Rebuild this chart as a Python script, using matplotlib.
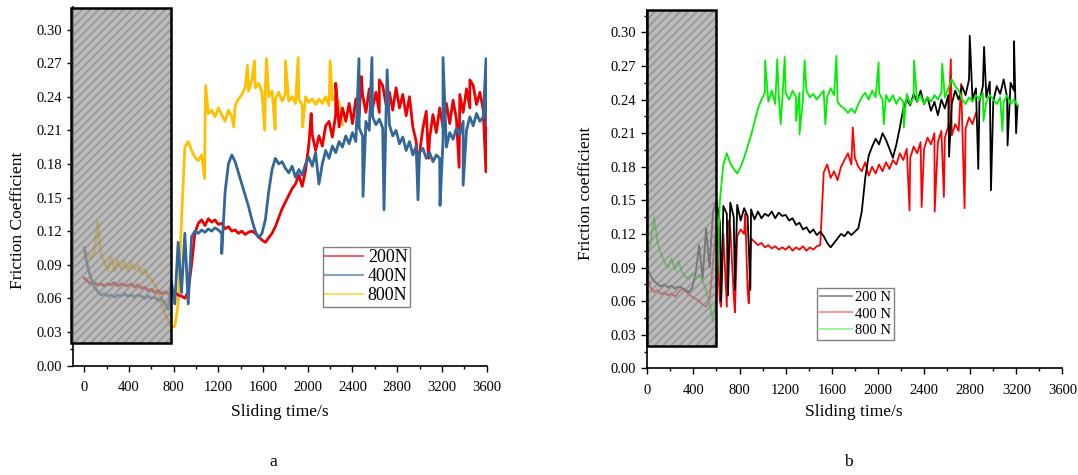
import numpy as np
import matplotlib.pyplot as plt
from matplotlib.patches import Rectangle
from matplotlib.lines import Line2D
from matplotlib.ticker import MultipleLocator, FormatStrFormatter

plt.rcParams['font.family'] = 'Liberation Serif'
plt.rcParams['hatch.linewidth'] = 1.3

# %% data, one value every 30 s (each row = 300 s)
step = 30

# (a) 200N
mu_200N_a = [
    0.078, 0.075, 0.073, 0.074, 0.072, 0.073, 0.071, 0.073, 0.072, 0.074,
    0.071, 0.073, 0.072, 0.071, 0.073, 0.070, 0.072, 0.069, 0.070, 0.067,
    0.068, 0.065, 0.067, 0.064, 0.066, 0.064, 0.066, 0.065, 0.063, 0.062,
    0.060, 0.066, 0.090, 0.118, 0.127, 0.130, 0.125, 0.131, 0.128, 0.130,
    0.126, 0.127, 0.122, 0.124, 0.120, 0.121, 0.118, 0.120, 0.117, 0.119,
    0.120, 0.118, 0.115, 0.112, 0.110, 0.114, 0.118, 0.124, 0.132, 0.140,
    0.146, 0.152, 0.158, 0.162, 0.170, 0.160, 0.174, 0.198, 0.206, 0.192,
    0.205, 0.196, 0.214, 0.218, 0.204, 0.224, 0.213, 0.230, 0.218, 0.234,
    0.216, 0.238, 0.223, 0.242, 0.226, 0.247, 0.230, 0.244, 0.226, 0.250,
    0.233, 0.244, 0.228, 0.248, 0.230, 0.242, 0.223, 0.240, 0.213, 0.200,
    0.190, 0.212, 0.227, 0.203, 0.224, 0.208, 0.230, 0.213, 0.234, 0.216,
    0.237, 0.220, 0.242, 0.226, 0.247, 0.230, 0.250, 0.233, 0.244, 0.228,
    0.235]
spk_200N_a_t = [2030, 2250, 2480, 2640, 2980, 3080, 3354, 3450, 3594]
spk_200N_a_v = [0.225, 0.252, 0.258, 0.255, 0.180, 0.185, 0.177, 0.255, 0.173]

# (a) 400N
mu_400N_a = [
    0.105, 0.088, 0.078, 0.070, 0.066, 0.063, 0.064, 0.062, 0.063, 0.061,
    0.063, 0.062, 0.064, 0.062, 0.063, 0.061, 0.063, 0.062, 0.060, 0.062,
    0.060, 0.061, 0.058, 0.060, 0.056, 0.050, 0.075, 0.055, 0.110, 0.065,
    0.118, 0.055, 0.115, 0.120, 0.118, 0.121, 0.119, 0.122, 0.120, 0.123,
    0.121, 0.118, 0.155, 0.180, 0.188, 0.182, 0.172, 0.162, 0.152, 0.142,
    0.130, 0.120, 0.114, 0.118, 0.130, 0.155, 0.175, 0.185, 0.180, 0.182,
    0.176, 0.172, 0.178, 0.168, 0.175, 0.170, 0.180, 0.186, 0.178, 0.190,
    0.162, 0.180, 0.192, 0.185, 0.196, 0.190, 0.200, 0.195, 0.205, 0.198,
    0.208, 0.200, 0.212, 0.205, 0.218, 0.210, 0.222, 0.215, 0.220, 0.212,
    0.225, 0.215, 0.205, 0.210, 0.198, 0.204, 0.192, 0.200, 0.188, 0.196,
    0.190, 0.194, 0.185, 0.190, 0.182, 0.188, 0.185, 0.200, 0.195, 0.208,
    0.202, 0.212, 0.206, 0.218, 0.210, 0.222, 0.214, 0.225, 0.218, 0.222,
    0.215]
spk_400N_a_t = [1230, 2458, 2494, 2574, 2682, 2710, 2986, 3183, 3210, 3390, 3595]
spk_400N_a_v = [0.100, 0.274, 0.151, 0.275, 0.139, 0.264, 0.148, 0.143, 0.275, 0.161, 0.274]

# (a) 800N
mu_800N_a = [
    0.097, 0.100, 0.095, 0.102, 0.128, 0.100, 0.092, 0.085, 0.097, 0.084,
    0.094, 0.086, 0.093, 0.084, 0.092, 0.086, 0.090, 0.082, 0.086, 0.080,
    0.077, 0.072, 0.065, 0.055, 0.047, 0.040, 0.034, 0.035, 0.055, 0.130,
    0.195, 0.200, 0.192, 0.186, 0.183, 0.188, 0.208, 0.225, 0.228, 0.222,
    0.230, 0.224, 0.218, 0.228, 0.222, 0.232, 0.238, 0.242, 0.248, 0.245,
    0.255, 0.248, 0.252, 0.244, 0.248, 0.240, 0.245, 0.238, 0.244, 0.236,
    0.242, 0.236, 0.240, 0.234, 0.238, 0.232, 0.240, 0.235, 0.238, 0.233,
    0.238, 0.234, 0.240, 0.232, 0.237, 0.240, 0.234, 0.215]
spk_800N_a_t = [1077, 1086, 1338, 1460, 1523, 1615, 1631, 1708, 1800, 1914, 1954, 2200]
spk_800N_a_v = [0.167, 0.250, 0.213, 0.268, 0.272, 0.210, 0.274, 0.211, 0.272, 0.275, 0.213, 0.272]

# (b) 200 N
mu_200N_b = [
    0.090, 0.082, 0.078, 0.075, 0.073, 0.075, 0.072, 0.074, 0.071, 0.073,
    0.072, 0.070, 0.068, 0.072, 0.085, 0.110, 0.080, 0.125, 0.090, 0.140,
    0.150, 0.130, 0.145, 0.138, 0.148, 0.135, 0.146, 0.132, 0.143, 0.136,
    0.142, 0.133, 0.140, 0.134, 0.138, 0.136, 0.140, 0.134, 0.139, 0.136,
    0.137, 0.132, 0.134, 0.128, 0.130, 0.124, 0.126, 0.121, 0.124, 0.119,
    0.122, 0.118, 0.112, 0.108, 0.112, 0.116, 0.120, 0.118, 0.122, 0.119,
    0.122, 0.125, 0.140, 0.170, 0.190, 0.198, 0.205, 0.200, 0.210, 0.204,
    0.196, 0.188, 0.200, 0.215, 0.232, 0.240, 0.235, 0.245, 0.238, 0.248,
    0.236, 0.242, 0.230, 0.238, 0.226, 0.240, 0.232, 0.244, 0.236, 0.248,
    0.240, 0.252, 0.244, 0.258, 0.240, 0.250, 0.238, 0.252, 0.242, 0.256,
    0.238, 0.252, 0.245, 0.258, 0.242, 0.255, 0.248, 0.235]
spk_200N_b_t = [640, 700, 760, 894, 2617, 2796, 2870, 2920, 2980, 3124, 3180, 3198]
spk_200N_b_v = [0.060, 0.065, 0.070, 0.070, 0.189, 0.297, 0.178, 0.287, 0.159, 0.199, 0.292, 0.210]

# (b) 400 N
mu_400N_b = [
    0.082, 0.072, 0.068, 0.070, 0.066, 0.068, 0.065, 0.067, 0.064, 0.068,
    0.071, 0.069, 0.066, 0.064, 0.062, 0.060, 0.057, 0.055, 0.060, 0.095,
    0.128, 0.060, 0.120, 0.055, 0.125, 0.065, 0.118, 0.124, 0.120, 0.070,
    0.116, 0.113, 0.110, 0.112, 0.108, 0.110, 0.107, 0.109, 0.106, 0.108,
    0.106, 0.109, 0.105, 0.108, 0.106, 0.109, 0.105, 0.108, 0.106, 0.109,
    0.110, 0.175, 0.182, 0.170, 0.176, 0.168, 0.180, 0.186, 0.192, 0.182,
    0.188, 0.180, 0.176, 0.184, 0.172, 0.180, 0.174, 0.182, 0.176, 0.184,
    0.178, 0.186, 0.182, 0.192, 0.186, 0.196, 0.188, 0.198, 0.192, 0.202,
    0.196, 0.206, 0.200, 0.210, 0.202, 0.212, 0.206, 0.216, 0.208, 0.218,
    0.212, 0.222, 0.214, 0.224, 0.218, 0.228]
spk_400N_b_t = [640, 700, 760, 850, 880, 1782, 2274, 2379, 2492, 2572, 2632, 2721, 2751]
spk_400N_b_v = [0.055, 0.132, 0.050, 0.138, 0.058, 0.215, 0.141, 0.144, 0.140, 0.153, 0.276, 0.254, 0.143]

# (b) 800 N
mu_800N_b = [
    0.100, 0.112, 0.135, 0.112, 0.102, 0.095, 0.090, 0.098, 0.088, 0.096,
    0.086, 0.082, 0.080, 0.084, 0.081, 0.083, 0.078, 0.070, 0.058, 0.042,
    0.065, 0.150, 0.182, 0.192, 0.183, 0.178, 0.174, 0.180, 0.188, 0.198,
    0.208, 0.220, 0.232, 0.240, 0.246, 0.238, 0.248, 0.236, 0.244, 0.238,
    0.246, 0.240, 0.248, 0.242, 0.246, 0.240, 0.248, 0.242, 0.245, 0.240,
    0.244, 0.248, 0.242, 0.250, 0.244, 0.238, 0.234, 0.232, 0.228, 0.232,
    0.228, 0.236, 0.242, 0.246, 0.240, 0.248, 0.242, 0.246, 0.240, 0.244,
    0.238, 0.244, 0.236, 0.242, 0.238, 0.245, 0.236, 0.242, 0.238, 0.244,
    0.236, 0.242, 0.238, 0.244, 0.240, 0.246, 0.242, 0.250, 0.258, 0.252,
    0.248, 0.240, 0.236, 0.242, 0.238, 0.244, 0.240, 0.246, 0.238, 0.244,
    0.240, 0.236, 0.242, 0.238, 0.244, 0.236, 0.240, 0.235]
spk_800N_b_t = [1022, 1127, 1157, 1192, 1290, 1320, 1365, 1544, 1640, 2006, 2051, 2224, 2313, 2557, 2915, 3079]
spk_800N_b_v = [0.275, 0.276, 0.218, 0.278, 0.221, 0.209, 0.275, 0.218, 0.279, 0.273, 0.218, 0.215, 0.275, 0.272, 0.221, 0.212]


def series(vals, spk_t, spk_v):
    t = np.concatenate([np.arange(len(vals)) * step, spk_t])
    v = np.concatenate([vals, spk_v])
    o = np.argsort(t, kind='stable')
    return t[o], v[o]


def style_axes(ax, xmin):
    ax.set_xlim(xmin, 3600)
    ax.set_ylim(0, 0.32)
    ax.xaxis.set_major_locator(MultipleLocator(400))
    ax.xaxis.set_minor_locator(MultipleLocator(200))
    ax.set_yticks(np.arange(0, 0.301, 0.03))
    ax.yaxis.set_minor_locator(MultipleLocator(0.015))
    ax.yaxis.set_major_formatter(FormatStrFormatter('%.2f'))
    for s in ['top', 'right']:
        ax.spines[s].set_visible(False)
    for s in ['left', 'bottom']:
        ax.spines[s].set_linewidth(1.2)
    ax.tick_params(which='major', length=4, width=1.0, labelsize=10.5)
    ax.tick_params(which='minor', length=2.5, width=1.0)
    ax.tick_params(axis='x', which='major', pad=7)
    ax.tick_params(axis='y', which='major', pad=4)


def grey_box(ax, x0, x1, y0, y1):
    ax.add_patch(Rectangle((x0, y0), x1 - x0, y1 - y0, facecolor=(0.63, 0.63, 0.63, 0.72),
                           edgecolor=(0.5, 0.5, 0.5, 0.6), linewidth=0, hatch='////',
                           zorder=5, clip_on=False))
    ax.add_patch(Rectangle((x0, y0), x1 - x0, y1 - y0, facecolor='none',
                           edgecolor='black', linewidth=1.8, zorder=6, clip_on=False))


fig = plt.figure(figsize=(10.78, 4.75), dpi=100)

# %% (a)
ax1 = fig.add_axes([0.0678, 0.2305, 0.3836, 0.7545])
c200, c400, c800 = '#ee0000', '#336699', '#ffc000'
ax1.plot(*series(mu_800N_a, spk_800N_a_t, spk_800N_a_v), color=c800, lw=2.0, zorder=2)
ax1.plot(*series(mu_200N_a, spk_200N_a_t, spk_200N_a_v), color=c200, lw=2.0, zorder=3)
ax1.plot(*series(mu_400N_a, spk_400N_a_t, spk_400N_a_v), color=c400, lw=2.0, zorder=4)
style_axes(ax1, -100)
grey_box(ax1, -120, 775, 0.020, 0.319)
h1 = [Line2D([], [], color=c, lw=1.5, alpha=0.6) for c in (c200, c400, c800)]
ax1.legend(h1, ['200N', '400N', '800N'], loc='upper left', bbox_to_anchor=(0.2993, 0.4806),
           bbox_transform=fig.transFigure, borderaxespad=0, fontsize=13, handlelength=2.1,
           handletextpad=0.25, labelspacing=0.1, borderpad=0.15, fancybox=False,
           framealpha=1, edgecolor='#808080')

# %% (b)
ax2 = fig.add_axes([0.6004, 0.2246, 0.3852, 0.7544])
ax2.plot(*series(mu_400N_b, spk_400N_b_t, spk_400N_b_v), color='#ff0000', lw=1.3, zorder=2)
ax2.plot(*series(mu_200N_b, spk_200N_b_t, spk_200N_b_v), color='black', lw=1.3, zorder=3)
ax2.plot(*series(mu_800N_b, spk_800N_b_t, spk_800N_b_v), color='#00ee00', lw=1.3, zorder=4)
style_axes(ax2, 0)
grey_box(ax2, 0, 600, 0.020, 0.320)
h2 = [Line2D([], [], color=c, lw=1.5, alpha=0.4) for c in ('black', '#ff0000', '#00ee00')]
ax2.legend(h2, ['200 N', '400 N', '800 N'], loc='upper left', bbox_to_anchor=(0.7582, 0.393),
           bbox_transform=fig.transFigure, borderaxespad=0, fontsize=10.5, handlelength=2.2,
           handletextpad=0.2, labelspacing=0.2, borderpad=0.2, fancybox=False,
           framealpha=1, edgecolor='#808080')

# axis titles and panel letters
fig.text(18 / 1078, 1 - 220 / 475, 'Friction Coefficient', rotation=90, ha='center', va='center', fontsize=12.5)
fig.text(586 / 1078, 1 - 193 / 475, 'Friction coefficient', rotation=90, ha='center', va='center', fontsize=12.5)
fig.text(280 / 1078, 1 - 412 / 475, 'Sliding time/s', ha='center', va='center', fontsize=12.5)
fig.text(854 / 1078, 1 - 412 / 475, 'Sliding time/s', ha='center', va='center', fontsize=12.5)
fig.text(273 / 1078, 1 - 462 / 475, 'a', ha='center', va='center', fontsize=12.5)
fig.text(848 / 1078, 1 - 462 / 475, 'b', ha='center', va='center', fontsize=12.5)

fig.savefig('out.png', dpi=100)
